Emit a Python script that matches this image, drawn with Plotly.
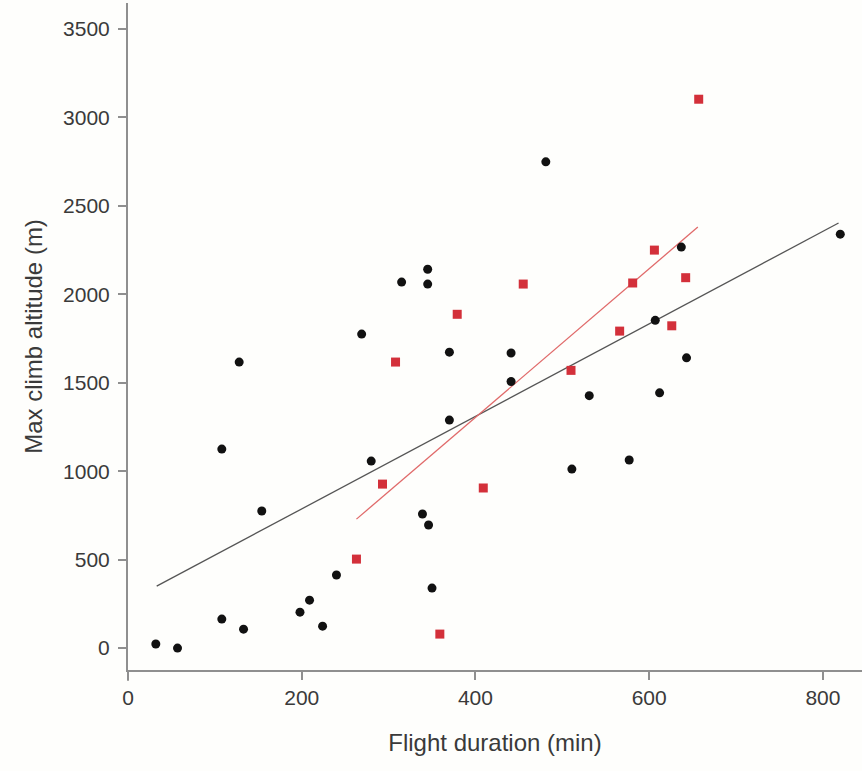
import plotly.graph_objects as go

# Black circles (flight duration min, max climb altitude m)
black_x = [32, 57, 108, 133, 108, 154, 128, 198, 209, 224, 240, 280, 339, 346, 350, 370,
           441, 511, 269, 315, 345, 345, 481, 370, 441, 637, 820, 607, 643, 531, 612, 577]
black_y = [23, 0, 164, 107, 1125, 775, 1617, 203, 271, 124, 413, 1057, 758, 696, 339, 1289,
           1507, 1012, 1775, 2069, 2142, 2058, 2749, 1673, 1668, 2267, 2340, 1853, 1641, 1427, 1443, 1063]

# Red squares
red_x = [263, 293, 359, 409, 308, 379, 455, 510, 657, 606, 581, 642, 566, 626]
red_y = [503, 927, 79, 905, 1617, 1887, 2058, 1570, 3103, 2250, 2064, 2094, 1792, 1822]

# Regression lines (end points)
black_fit_x = [33, 818]
black_fit_y = [350, 2403]
red_fit_x = [263, 656]
red_fit_y = [729, 2380]

x_ticks = [0, 200, 400, 600, 800]
y_ticks = [0, 500, 1000, 1500, 2000, 2500, 3000, 3500]

fig = go.Figure()
fig.add_trace(go.Scatter(x=black_fit_x, y=black_fit_y, mode="lines",
                         line=dict(color="#555555", width=1.3), showlegend=False))
fig.add_trace(go.Scatter(x=red_fit_x, y=red_fit_y, mode="lines",
                         line=dict(color="#e06a6a", width=1.3), showlegend=False))
fig.add_trace(go.Scatter(x=black_x, y=black_y, mode="markers",
                         marker=dict(symbol="circle", size=9, color="#111111"), showlegend=False))
fig.add_trace(go.Scatter(x=red_x, y=red_y, mode="markers",
                         marker=dict(symbol="square", size=9, color="#d3303a"), showlegend=False))

font_fam = "Liberation Sans, Arial"
axis_common = dict(showgrid=False, zeroline=False, showline=True, linecolor="#8f8f8f",
                   linewidth=2, ticks="outside", ticklen=8, tickcolor="#8f8f8f", tickwidth=1.5,
                   tickfont=dict(family=font_fam, size=21, color="#3a3a3a"))

fig.update_xaxes(range=[0, 845], tickvals=x_ticks, ticktext=[str(v) for v in x_ticks],
                 title=dict(text="Flight duration (min)", standoff=26,
                            font=dict(family=font_fam, size=24, color="#3a3a3a")),
                 **axis_common)
fig.update_yaxes(range=[-124, 3647], tickvals=y_ticks, ticktext=[str(v) for v in y_ticks],
                 ticklabelstandoff=4,
                 title=dict(text="Max climb altitude (m)", standoff=14,
                            font=dict(family=font_fam, size=24, color="#3a3a3a")),
                 **axis_common)

# small extension of the y axis line below the x axis
fig.add_shape(type="line", xref="paper", yref="paper", x0=0, x1=0, y0=0, y1=-0.016,
              line=dict(color="#8f8f8f", width=2))

fig.update_layout(width=862, height=771, margin=dict(l=128, r=0, t=3, b=101),
                  paper_bgcolor="#fefefc", plot_bgcolor="#fefefc")

fig.write_html("out.html")
